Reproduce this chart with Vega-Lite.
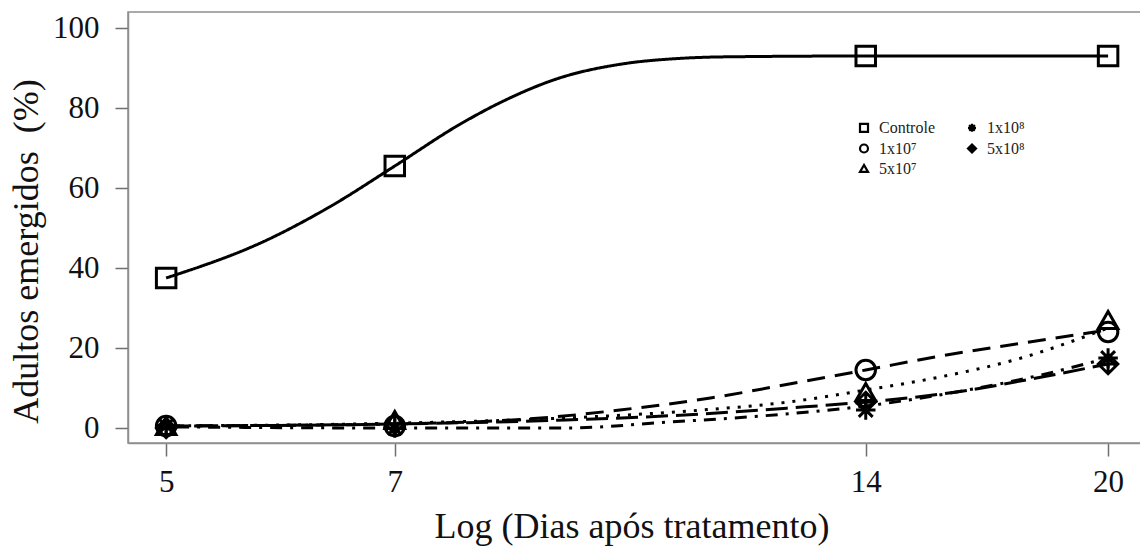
{
  "$schema": "https://vega.github.io/schema/vega-lite/v6.json",
  "width": 1020,
  "height": 431,
  "autosize": "none",
  "padding": {"left": 128, "top": 12, "right": 0, "bottom": 110},
  "background": "white",
  "config": {
    "font": "Liberation Serif",
    "view": {"stroke": "#8f8f8f", "strokeWidth": 1.5},
    "axis": {
      "domainColor": "#8f8f8f",
      "domainWidth": 1.5,
      "tickColor": "#6f6f6f",
      "tickWidth": 1.5,
      "tickSize": 13,
      "grid": false,
      "labelFont": "Liberation Serif",
      "labelFontSize": 31,
      "labelColor": "#111",
      "titleFont": "Liberation Serif",
      "titleFontSize": 36,
      "titleFontWeight": "normal",
      "titleColor": "#111"
    }
  },
  "datasets": {
    "obs": [
      {"series": "Controle", "day": 5, "pct": 37.5},
      {"series": "Controle", "day": 7, "pct": 65.5},
      {"series": "Controle", "day": 14, "pct": 93},
      {"series": "Controle", "day": 20, "pct": 93},
      {"series": "1x10⁷", "day": 5, "pct": 0.5},
      {"series": "1x10⁷", "day": 7, "pct": 0.5},
      {"series": "1x10⁷", "day": 14, "pct": 14.5},
      {"series": "1x10⁷", "day": 20, "pct": 24},
      {"series": "5x10⁷", "day": 5, "pct": 0.5},
      {"series": "5x10⁷", "day": 7, "pct": 2},
      {"series": "5x10⁷", "day": 14, "pct": 9},
      {"series": "5x10⁷", "day": 20, "pct": 27},
      {"series": "1x10⁸", "day": 5, "pct": 0.5},
      {"series": "1x10⁸", "day": 7, "pct": 0},
      {"series": "1x10⁸", "day": 14, "pct": 4.5},
      {"series": "1x10⁸", "day": 20, "pct": 17.5},
      {"series": "5x10⁸", "day": 5, "pct": 0},
      {"series": "5x10⁸", "day": 7, "pct": 1},
      {"series": "5x10⁸", "day": 14, "pct": 6.5},
      {"series": "5x10⁸", "day": 20, "pct": 16}
    ],
    "fit": [
      {"treatment": "Controle", "day": 5, "pct": 37.5},
      {"treatment": "Controle", "day": 5.8, "pct": 47},
      {"treatment": "Controle", "day": 6.39, "pct": 55.75},
      {"treatment": "Controle", "day": 7, "pct": 65.5},
      {"treatment": "Controle", "day": 7.71, "pct": 76},
      {"treatment": "Controle", "day": 8.19, "pct": 81.5},
      {"treatment": "Controle", "day": 8.92, "pct": 87.5},
      {"treatment": "Controle", "day": 9.78, "pct": 91},
      {"treatment": "Controle", "day": 10.65, "pct": 92.4},
      {"treatment": "Controle", "day": 11.45, "pct": 92.8},
      {"treatment": "Controle", "day": 14, "pct": 93},
      {"treatment": "Controle", "day": 20, "pct": 93},
      {"treatment": "1x10⁷", "day": 5, "pct": 0.5},
      {"treatment": "1x10⁷", "day": 7, "pct": 1},
      {"treatment": "1x10⁷", "day": 8.84, "pct": 2.75},
      {"treatment": "1x10⁷", "day": 9.75, "pct": 4.5},
      {"treatment": "1x10⁷", "day": 11.14, "pct": 7.5},
      {"treatment": "1x10⁷", "day": 12.71, "pct": 11.5},
      {"treatment": "1x10⁷", "day": 14, "pct": 14.5},
      {"treatment": "1x10⁷", "day": 15.5, "pct": 17.75},
      {"treatment": "1x10⁷", "day": 17.65, "pct": 21.25},
      {"treatment": "1x10⁷", "day": 20, "pct": 24.5},
      {"treatment": "5x10⁷", "day": 5, "pct": 0.5},
      {"treatment": "5x10⁷", "day": 7, "pct": 1.2},
      {"treatment": "5x10⁷", "day": 9, "pct": 2.5},
      {"treatment": "5x10⁷", "day": 11, "pct": 4.5},
      {"treatment": "5x10⁷", "day": 12.5, "pct": 6.5},
      {"treatment": "5x10⁷", "day": 14, "pct": 9.5},
      {"treatment": "5x10⁷", "day": 15.5, "pct": 12.5},
      {"treatment": "5x10⁷", "day": 17.6, "pct": 17.5},
      {"treatment": "5x10⁷", "day": 20, "pct": 25},
      {"treatment": "1x10⁸", "day": 5, "pct": 0.3},
      {"treatment": "1x10⁸", "day": 7, "pct": 0},
      {"treatment": "1x10⁸", "day": 9, "pct": 0},
      {"treatment": "1x10⁸", "day": 10.5, "pct": 1.5},
      {"treatment": "1x10⁸", "day": 12, "pct": 3},
      {"treatment": "1x10⁸", "day": 14, "pct": 5.5},
      {"treatment": "1x10⁸", "day": 16, "pct": 9},
      {"treatment": "1x10⁸", "day": 18, "pct": 13},
      {"treatment": "1x10⁸", "day": 20, "pct": 17.5},
      {"treatment": "5x10⁸", "day": 5, "pct": 0.5},
      {"treatment": "5x10⁸", "day": 7, "pct": 1},
      {"treatment": "5x10⁸", "day": 9, "pct": 2},
      {"treatment": "5x10⁸", "day": 11, "pct": 3.5},
      {"treatment": "5x10⁸", "day": 12.5, "pct": 5},
      {"treatment": "5x10⁸", "day": 14, "pct": 6.5},
      {"treatment": "5x10⁸", "day": 16, "pct": 9},
      {"treatment": "5x10⁸", "day": 18, "pct": 12.5},
      {"treatment": "5x10⁸", "day": 20, "pct": 16}
    ]
  },
  "encoding": {
    "x": {
      "field": "day",
      "type": "quantitative",
      "scale": {"type": "log", "domain": [4.727, 21.21], "nice": false, "zero": false},
      "axis": {
        "title": "Log (Dias após tratamento)",
        "values": [5, 7, 14, 20],
        "format": "d",
        "labelPadding": 11,
        "titleAnchor": "start",
        "titleBaseline": "alphabetic",
        "titleX": 306,
        "titleY": 94
      }
    },
    "y": {
      "field": "pct",
      "type": "quantitative",
      "scale": {"domain": [-3.75, 104], "nice": false, "zero": false},
      "axis": {
        "title": "Adultos emergidos\u00a0\u00a0(%)",
        "values": [0, 20, 40, 60, 80, 100],
        "labelPadding": 16,
        "titleAngle": -90,
        "titleBaseline": "alphabetic",
        "titleAnchor": "middle",
        "titleX": -91,
        "titleY": 239
      }
    }
  },
  "layer": [
    {
      "data": {"name": "fit"},
      "mark": {"type": "line", "interpolate": "monotone", "strokeWidth": 3, "color": "black"},
      "encoding": {
        "detail": {"field": "treatment"},
        "strokeDash": {
          "field": "treatment",
          "type": "nominal",
          "scale": {
            "domain": ["5x10⁸", "1x10⁸", "5x10⁷", "1x10⁷", "Controle"],
            "range": [[22, 8], [3, 8, 12, 8], [3, 8], [18, 10], [1, 0]]
          },
          "legend": null
        }
      }
    },
    {
      "data": {"name": "obs"},
      "mark": {"type": "point", "filled": false, "strokeWidth": 3, "color": "black", "opacity": 1, "size": 380},
      "encoding": {
        "shape": {
          "field": "series",
          "type": "nominal",
          "scale": {
            "domain": ["Controle", "1x10⁷", "5x10⁷", "1x10⁸", "5x10⁸"],
            "range": [
              "square",
              "circle",
              "triangle-up",
              "M-1,0L1,0M0,-1L0,1M-0.71,-0.71L0.71,0.71M-0.71,0.71L0.71,-0.71",
              "M0,-1L1,0L0,1L-1,0ZM-1,0L1,0M0,-1L0,1"
            ]
          },
          "legend": {
            "title": null,
            "orient": "none",
            "legendX": 728,
            "legendY": 107.5,
            "columns": 2,
            "gridAlign": "each",
            "columnPadding": 28,
            "rowPadding": 3,
            "symbolSize": 64,
            "symbolStrokeWidth": 2.2,
            "symbolStrokeColor": "black",
            "symbolFillColor": "transparent",
            "labelFont": "Liberation Serif",
            "labelFontSize": 16,
            "labelColor": "#222",
            "labelOffset": 7
          }
        }
      }
    }
  ]
}
